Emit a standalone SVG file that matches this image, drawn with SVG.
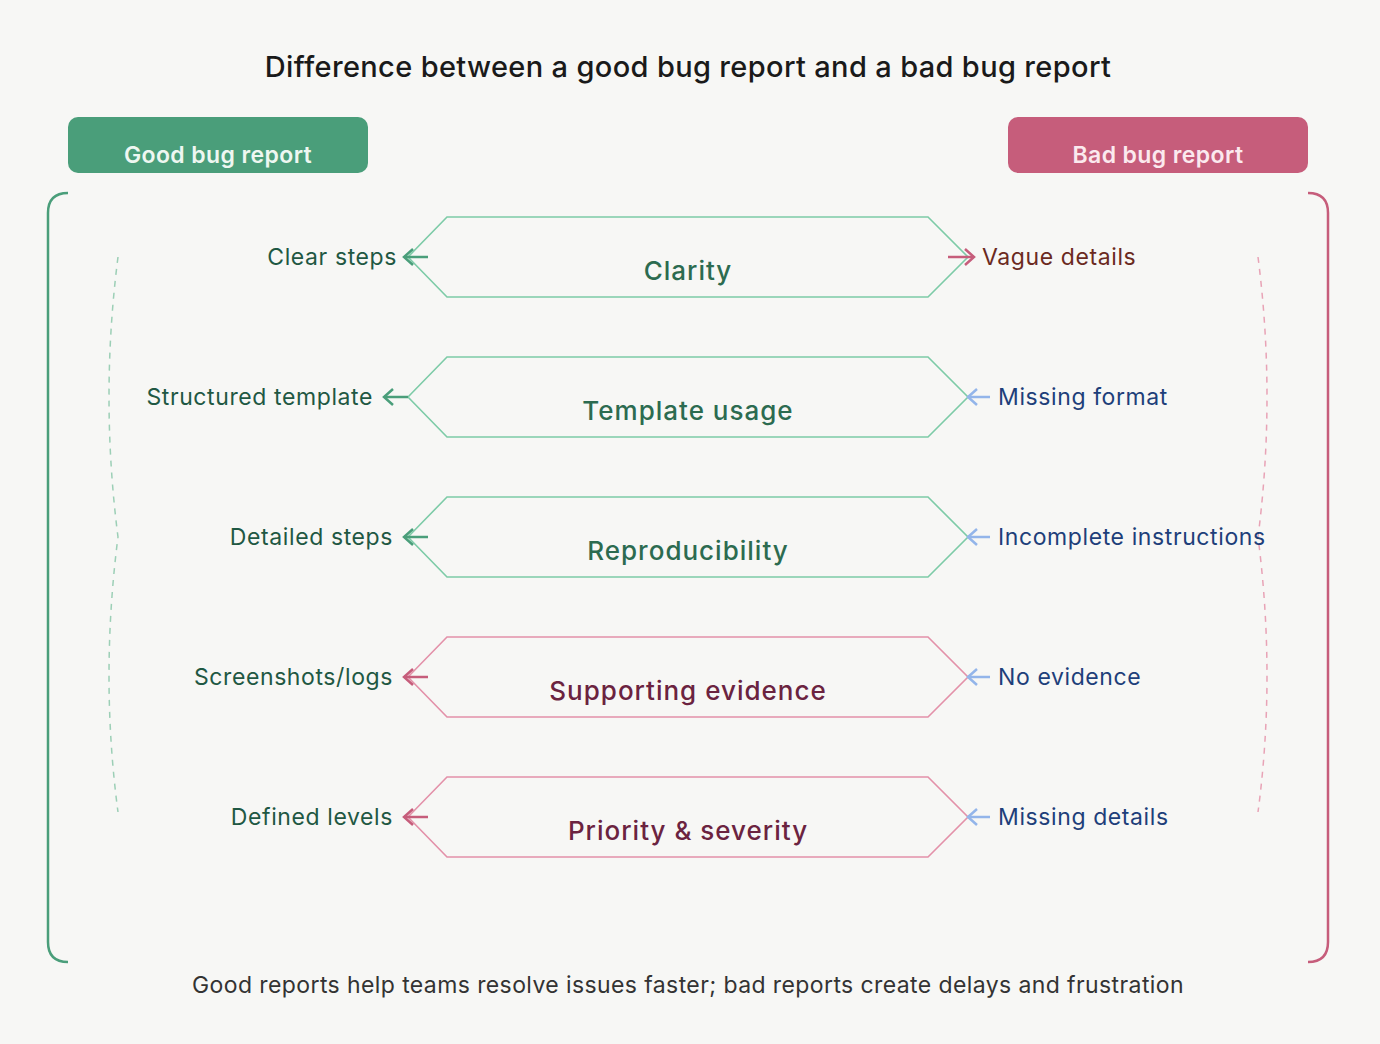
<svg xmlns="http://www.w3.org/2000/svg" width="1380" height="1044" viewBox="0 0 1380 1044">
<style>
text{font-family:Inter,"Open Sans","Liberation Sans",sans-serif}
.title{font-size:29px;font-weight:500;fill:#1a1a1a;letter-spacing:0.35px}
.hdr{font-size:23px;font-weight:600;fill:#eef7f1;letter-spacing:0.4px}
.hdrb{font-size:23px;font-weight:600;fill:#fbe9ee;letter-spacing:0.4px}
.hex-g{fill:none;stroke:#7dcba7;stroke-width:1.6}
.hex-p{fill:none;stroke:#e391a9;stroke-width:1.6}
.ht-g{font-size:26px;font-weight:500;fill:#2c6b50;letter-spacing:1px}
.ht-p{font-size:26px;font-weight:500;fill:#6b2340;letter-spacing:1px}
.lt{font-size:23px;fill:#1f5843;letter-spacing:0.6px}
.rt{font-size:23px;fill:#1e3f7a;letter-spacing:0.6px}
.rv{font-size:23px;fill:#6b2a1f;letter-spacing:0.6px}
.a-g{fill:none;stroke:#4a9e7a;stroke-width:2.5;marker-end:url(#mg)}
.a-p{fill:none;stroke:#c65d7b;stroke-width:2.5;marker-end:url(#mp)}
.a-b{fill:none;stroke:#93b5ea;stroke-width:2.5;marker-end:url(#mb)}
.foot{font-size:23px;fill:#333333;letter-spacing:0.4px}
</style>
<defs>
<marker id="mg" markerUnits="userSpaceOnUse" markerWidth="14" markerHeight="20" refX="10" refY="9" orient="auto" overflow="visible"><path d="M1,1 L10,9 L1,17" fill="none" stroke="#4a9e7a" stroke-width="2.5"/></marker>
<marker id="mp" markerUnits="userSpaceOnUse" markerWidth="14" markerHeight="20" refX="10" refY="9" orient="auto" overflow="visible"><path d="M1,1 L10,9 L1,17" fill="none" stroke="#c65d7b" stroke-width="2.5"/></marker>
<marker id="mb" markerUnits="userSpaceOnUse" markerWidth="14" markerHeight="20" refX="10" refY="9" orient="auto" overflow="visible"><path d="M1,1 L10,9 L1,17" fill="none" stroke="#93b5ea" stroke-width="2.5"/></marker>
</defs>
<rect x="0" y="0" width="1380" height="1044" fill="#f7f7f5"/>
<text class="title" x="688" y="77" text-anchor="middle">Difference between a good bug report and a bad bug report</text>

<g id="good-header">
<rect x="68" y="117" width="300" height="56" rx="10" fill="#4a9e7a"/>
<text class="hdr" x="218" y="163" text-anchor="middle">Good bug report</text>
</g>
<g id="bad-header">
<rect x="1008" y="117" width="300" height="56" rx="10" fill="#c65d7b"/>
<text class="hdrb" x="1158" y="163" text-anchor="middle">Bad bug report</text>
</g>

<g id="brackets">
<path d="M68,193 Q48,193 48,213 L48,942 Q48,962 68,962" fill="none" stroke="#4a9e7a" stroke-width="2.5"/>
<path d="M1308,193 Q1328,193 1328,213 L1328,942 Q1328,962 1308,962" fill="none" stroke="#c65d7b" stroke-width="2.5"/>
<path d="M118,257 Q100,397 118,537 Q100,677 118,812" fill="none" stroke="#9ccfb6" stroke-width="1.5" stroke-dasharray="6 6"/>
<path d="M1258,257 Q1276,397 1258,537 Q1276,677 1258,812" fill="none" stroke="#e8a3b6" stroke-width="1.5" stroke-dasharray="6 6"/>
</g>

<g id="node-clarity">
<polygon class="hex-g" points="408,257 447,217 928,217 968,257 928,297 447,297"/>
<text class="ht-g" x="688" y="280" text-anchor="middle">Clarity</text>
</g>
<g id="node-template">
<polygon class="hex-g" points="408,397 447,357 928,357 968,397 928,437 447,437"/>
<text class="ht-g" x="688" y="420" text-anchor="middle">Template usage</text>
</g>
<g id="node-repro">
<polygon class="hex-g" points="408,537 447,497 928,497 968,537 928,577 447,577"/>
<text class="ht-g" x="688" y="560" text-anchor="middle">Reproducibility</text>
</g>
<g id="node-evidence">
<polygon class="hex-p" points="408,677 447,637 928,637 968,677 928,717 447,717"/>
<text class="ht-p" x="688" y="700" text-anchor="middle">Supporting evidence</text>
</g>
<g id="node-priority">
<polygon class="hex-p" points="408,817 447,777 928,777 968,817 928,857 447,857"/>
<text class="ht-p" x="688" y="840" text-anchor="middle">Priority &amp; severity</text>
</g>

<g id="labels-good">
<text class="lt" x="397" y="265" text-anchor="end">Clear steps</text>
<text class="lt" x="373" y="405" text-anchor="end">Structured template</text>
<text class="lt" x="393" y="545" text-anchor="end">Detailed steps</text>
<text class="lt" x="393" y="685" text-anchor="end">Screenshots/logs</text>
<text class="lt" x="393" y="825" text-anchor="end">Defined levels</text>
</g>
<g id="labels-bad">
<text class="rv" x="982" y="265">Vague details</text>
<text class="rt" x="998" y="405">Missing format</text>
<text class="rt" x="998" y="545">Incomplete instructions</text>
<text class="rt" x="998" y="685">No evidence</text>
<text class="rt" x="998" y="825">Missing details</text>
</g>

<g id="connectors">
<path class="a-g" d="M428,257 L404,257"/>
<path class="a-g" d="M408,397 L384,397"/>
<path class="a-g" d="M428,537 L404,537"/>
<path class="a-p" d="M428,677 L404,677"/>
<path class="a-p" d="M428,817 L404,817"/>
<path class="a-p" d="M948,257 L974,257"/>
<path class="a-b" d="M990,397 L968,397"/>
<path class="a-b" d="M990,537 L968,537"/>
<path class="a-b" d="M990,677 L968,677"/>
<path class="a-b" d="M990,817 L968,817"/>
</g>

<text class="foot" x="688" y="993" text-anchor="middle">Good reports help teams resolve issues faster; bad reports create delays and frustration</text>
</svg>
